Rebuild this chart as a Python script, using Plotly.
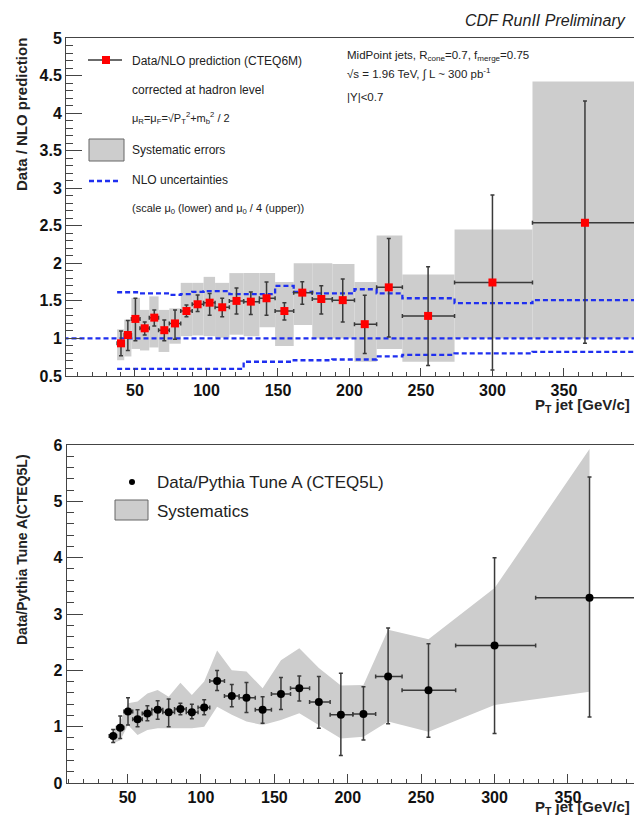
import plotly.graph_objects as go

# ---------------- data ----------------
pt = [40.2, 45, 50.3, 56.8, 63.5, 70.5, 78, 86, 93.8, 102.2, 111, 121, 131, 142,
      154.5, 167, 180.3, 195.3, 210.7, 227.5, 255, 300, 364.7]
bin_edges = [37.5, 42.5, 47.5, 53.5, 60, 66.5, 74, 82, 90, 98, 106, 116, 126, 137,
             148, 161, 174, 188, 203.5, 219, 237, 273.5, 328, 400]

# top panel: Data / NLO
nlo_ratio = [0.935, 1.046, 1.26, 1.135, 1.277, 1.11, 1.2, 1.365, 1.455, 1.476, 1.415,
             1.5, 1.49, 1.535, 1.365, 1.61, 1.525, 1.51, 1.19, 1.68, 1.3, 1.745, 2.54]
nlo_err_hi = [1.10, 1.24, 1.535, 1.22, 1.38, 1.245, 1.38, 1.445, 1.58, 1.60, 1.535,
              1.67, 1.62, 1.75, 1.476, 1.755, 1.70, 1.79, 1.575, 2.33, 1.955, 2.91, 4.16]
nlo_err_lo = [0.77, 0.84, 0.97, 1.046, 1.166, 0.97, 0.99, 1.29, 1.36, 1.31, 1.29,
              1.325, 1.32, 1.31, 1.245, 1.455, 1.325, 1.22, 0.80, 1.02, 0.64, 0.58, 0.935]
nlo_sys_hi = [1.12, 1.25, 1.54, 1.38, 1.56, 1.38, 1.40, 1.74, 1.74, 1.82, 1.74, 1.87,
              1.87, 1.87, 1.75, 2.00, 2.00, 1.99, 1.75, 2.37, 1.85, 2.45, 4.42]
nlo_sys_lo = [0.71, 0.76, 0.86, 0.84, 0.88, 0.82, 0.93, 1.03, 1.04, 1.03, 1.01, 1.05,
              1.03, 1.15, 0.90, 1.18, 1.00, 1.00, 0.69, 0.86, 0.69, 1.00, 1.00]
nlo_unc_upper = [1.615, 1.615, 1.615, 1.60, 1.60, 1.60, 1.58, 1.59, 1.62, 1.63, 1.63,
                 1.59, 1.59, 1.59, 1.70, 1.62, 1.60, 1.60, 1.655, 1.60, 1.535, 1.47, 1.51]
nlo_unc_lower = [0.595] * 12 + [0.69, 0.69, 0.69, 0.71, 0.71, 0.72, 0.72, 0.76, 0.78,
                                0.80, 0.82]
nlo_unity = [1.0, 1.0]
unity_x = [0, 400]

# bottom panel: Data / Pythia Tune A
py_ratio = [0.835, 0.98, 1.27, 1.13, 1.235, 1.30, 1.255, 1.315, 1.255, 1.34, 1.81,
            1.545, 1.515, 1.30, 1.58, 1.68, 1.44, 1.21, 1.225, 1.89, 1.645, 2.44, 3.29]
py_err_hi = [0.95, 1.19, 1.515, 1.30, 1.37, 1.46, 1.49, 1.415, 1.40, 1.48, 1.995,
             1.75, 1.785, 1.53, 1.875, 1.90, 1.89, 1.95, 1.71, 2.75, 2.47, 4.0, 5.43]
py_err_lo = [0.72, 0.79, 1.03, 1.0, 1.105, 1.13, 1.0, 1.21, 1.14, 1.21, 1.64, 1.355,
             1.25, 1.06, 1.305, 1.455, 0.97, 0.49, 0.765, 1.05, 0.81, 0.88, 1.17]
py_sys_hi = [0.91, 1.09, 1.415, 1.445, 1.59, 1.65, 1.53, 1.78, 1.56, 1.80, 2.35, 2.00,
             1.98, 1.68, 2.18, 2.39, 2.04, 1.73, 1.74, 2.72, 2.55, 3.46, 5.93]
py_sys_lo = [0.705, 0.76, 1.03, 0.85, 0.94, 0.97, 0.97, 0.97, 0.97, 1.00, 1.355, 1.21,
             1.09, 1.03, 1.12, 1.24, 1.03, 0.79, 0.82, 1.09, 0.91, 1.385, 1.62]

top_yticks = [0.5, 1, 1.5, 2, 2.5, 3, 3.5, 4, 4.5, 5]
bot_yticks = [0, 1, 2, 3, 4, 5, 6]
x_ticks = [50, 100, 150, 200, 250, 300, 350]

# ---------------- derived ----------------
lo_edges = bin_edges[:-1]
hi_edges = bin_edges[1:]
ex_minus = [x - a for x, a in zip(pt, lo_edges)]
ex_plus = [b - x for x, b in zip(pt, hi_edges)]
bin_mid = [(a + b) / 2 for a, b in zip(lo_edges, hi_edges)]
bin_w = [b - a for a, b in zip(lo_edges, hi_edges)]

W, H = 634, 819
def px(x):
    return x / W
def py(y):
    return 1 - y / H

FONT = "Liberation Sans"
GRAY = "#cdcdcd"
BLUE = "#1f2ff0"
ERRC = "#3a3a3a"
DASH = "5px,3px"

fig = go.Figure()

# ---- top panel ----
fig.add_trace(go.Bar(
    x=bin_mid, y=[h - l for h, l in zip(nlo_sys_hi, nlo_sys_lo)], base=nlo_sys_lo,
    width=bin_w, marker=dict(color=GRAY, line=dict(width=0)),
    xaxis="x", yaxis="y", showlegend=False, hoverinfo="skip"))

for vals in (nlo_unc_upper, nlo_unc_lower):
    fig.add_trace(go.Scatter(
        x=bin_edges, y=vals + [vals[-1]], mode="lines", line_shape="hv",
        line=dict(color=BLUE, width=2.3, dash=DASH),
        xaxis="x", yaxis="y", showlegend=False, hoverinfo="skip"))
fig.add_trace(go.Scatter(
    x=unity_x, y=nlo_unity, mode="lines",
    line=dict(color=BLUE, width=2.3, dash=DASH),
    xaxis="x", yaxis="y", showlegend=False, hoverinfo="skip"))

fig.add_trace(go.Scatter(
    x=pt, y=nlo_ratio, mode="markers",
    marker=dict(symbol="square", size=8, color="#ff0000"),
    error_y=dict(type="data", symmetric=False,
                 array=[h - v for h, v in zip(nlo_err_hi, nlo_ratio)],
                 arrayminus=[v - l for v, l in zip(nlo_ratio, nlo_err_lo)],
                 color=ERRC, thickness=1.5, width=2),
    error_x=dict(type="data", symmetric=False, array=ex_plus, arrayminus=ex_minus,
                 color=ERRC, thickness=1.5, width=2),
    xaxis="x", yaxis="y", showlegend=False))

# ---- bottom panel ----
fig.add_trace(go.Scatter(
    x=pt, y=py_sys_hi, mode="lines", line=dict(width=0, color=GRAY),
    xaxis="x2", yaxis="y2", showlegend=False, hoverinfo="skip"))
fig.add_trace(go.Scatter(
    x=pt, y=py_sys_lo, mode="lines", line=dict(width=0, color=GRAY),
    fill="tonexty", fillcolor=GRAY,
    xaxis="x2", yaxis="y2", showlegend=False, hoverinfo="skip"))
fig.add_trace(go.Scatter(
    x=pt, y=py_ratio, mode="markers",
    marker=dict(symbol="circle", size=8, color="#000000"),
    error_y=dict(type="data", symmetric=False,
                 array=[h - v for h, v in zip(py_err_hi, py_ratio)],
                 arrayminus=[v - l for v, l in zip(py_ratio, py_err_lo)],
                 color=ERRC, thickness=1.5, width=2),
    error_x=dict(type="data", symmetric=False, array=ex_plus, arrayminus=ex_minus,
                 color=ERRC, thickness=1.5, width=2),
    xaxis="x2", yaxis="y2", showlegend=False))

tickfont = dict(family=FONT, size=16, color="#111", weight="bold")
axcommon = dict(showgrid=False, zeroline=False, showline=True, linecolor="#444",
                linewidth=1, ticks="inside", tickcolor="#444", tickfont=tickfont,
                automargin=False)

fig.update_layout(
    width=W, height=H, margin=dict(l=0, r=0, t=0, b=0, pad=0),
    paper_bgcolor="white", plot_bgcolor="white", barmode="overlay",
    xaxis=dict(domain=[px(66), 1], range=[1.75, 399], tickvals=x_ticks,
               ticklen=8, tickwidth=1, mirror=True, anchor="y",
               minor=dict(dtick=10, tick0=0, ticklen=4, ticks="inside", tickcolor="#444"),
               **axcommon),
    yaxis=dict(domain=[py(376), py(38)], range=[0.5, 5], tickvals=top_yticks,
               ticklen=16, tickwidth=1, anchor="x",
               minor=dict(dtick=0.1, tick0=0, ticklen=7, ticks="inside", tickcolor="#444"),
               **axcommon),
    xaxis2=dict(domain=[px(66.5), 1], range=[8.4, 395], tickvals=x_ticks,
                ticklen=9, tickwidth=1, mirror=True, anchor="y2",
                minor=dict(dtick=10, tick0=0, ticklen=4, ticks="inside", tickcolor="#444"),
                **axcommon),
    yaxis2=dict(domain=[py(783), py(445)], range=[0, 6], tickvals=bot_yticks,
                ticklen=16, tickwidth=1, anchor="x2",
                minor=dict(dtick=0.2, tick0=0, ticklen=7, ticks="inside", tickcolor="#444"),
                **axcommon),
)

ann = []
def txt(x, y, s, size=12, xanchor="left", bold=False, italic=False, angle=0, family=FONT):
    f = dict(family=family, size=size, color="#222")
    if bold:
        f["weight"] = "bold"
    if italic:
        f["style"] = "italic"
    ann.append(dict(x=px(x), y=py(y), xref="paper", yref="paper", text=s,
                    showarrow=False, xanchor=xanchor, yanchor="middle",
                    font=f, textangle=angle))

txt(628, 20, "CDF RunII Preliminary", size=16, xanchor="right", italic=True)

# top legend text
txt(130, 61, "Data/NLO prediction (CTEQ6M)")
txt(130, 90, "corrected at hadron level")
txt(130, 118, "μ<sub>R</sub>=μ<sub>F</sub>=√P<sub>T</sub><sup>2</sup>+m<sub>b</sub><sup>2</sup> / 2", size=11)
txt(130, 150, "Systematic errors")
txt(130, 180, "NLO uncertainties")
txt(130, 209, "(scale μ<sub>0</sub> (lower) and μ<sub>0</sub> / 4 (upper))", size=11)

# top-right info
txt(345, 56, "MidPoint jets, R<sub>cone</sub>=0.7, f<sub>merge</sub>=0.75", size=11.5)
txt(345, 73, "√s = 1.96 TeV, ∫ L ~ 300 pb<sup>-1</sup>", size=11.5)
txt(345, 97, "|Y|<0.7", size=11.5)

# axis titles
txt(632, 405, "P<sub>T</sub> jet [GeV/c]", size=15, xanchor="right", bold=True)
txt(632, 807, "P<sub>T</sub> jet [GeV/c]", size=15, xanchor="right", bold=True)
txt(22, 115, "Data / NLO prediction", size=15, bold=True, xanchor="center", angle=-90)
txt(22, 550, "Data/Pythia Tune A(CTEQ5L)", size=14, bold=True, xanchor="center", angle=-90)

# bottom legend text
txt(155, 482, "Data/Pythia Tune A (CTEQ5L)", size=17)
txt(155, 511, "Systematics", size=17)

fig.update_layout(annotations=ann)

shapes = []
def line(x0, y0, x1, y1, color, width=1.5, dash="solid"):
    shapes.append(dict(type="line", xref="paper", yref="paper",
                       x0=px(x0), y0=py(y0), x1=px(x1), y1=py(y1),
                       line=dict(color=color, width=width, dash=dash)))
def rect(x0, y0, x1, y1, fill, lc, lw=1):
    shapes.append(dict(type="rect", xref="paper", yref="paper",
                       x0=px(x0), y0=py(y0), x1=px(x1), y1=py(y1),
                       fillcolor=fill, line=dict(color=lc, width=lw)))

# top legend symbols
line(88, 60, 122, 60, ERRC, 1.5)
rect(102, 56, 110, 64, "#ff0000", "#ff0000", 0)
rect(89, 139, 124, 161, GRAY, "#666", 1)
line(89, 181, 121, 181, BLUE, 2.3, DASH)
# bottom legend symbols
shapes.append(dict(type="circle", xref="paper", yref="paper",
                   x0=px(129), y0=py(479), x1=px(135), y1=py(485),
                   fillcolor="#000", line=dict(color="#000", width=0)))
rect(115, 500, 148, 520, GRAY, "#666", 1)

fig.update_layout(shapes=shapes)

fig.write_html(
    "out.html",
    config={"displayModeBar": False},
    post_script="document.body.style.margin='0';document.body.style.padding='0';"
                "document.documentElement.style.overflow='hidden';",
)
